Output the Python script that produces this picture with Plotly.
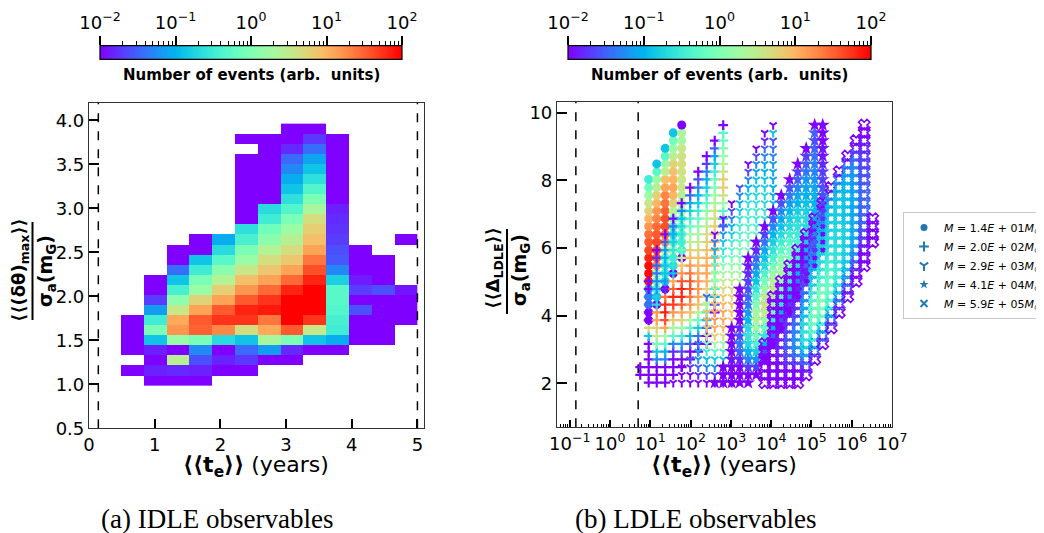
import numpy as np
import plotly.graph_objects as go

N = None
W, H = 1044, 533          # target picture size
OFF = 8                    # page body margin of the browser
FW, FH = W - OFF, H - OFF  # figure size so that the page is exactly W x H

# ---------------- (a) IDLE observables : 2-D histogram ----------------
TE_EDGES = [0.142, 0.489, 0.836, 1.183, 1.530, 1.877, 2.224, 2.571, 2.918,
            3.265, 3.612, 3.959, 4.306, 4.653, 5.000]
DTH_EDGES = [0.988, 1.102, 1.217, 1.331, 1.446, 1.560, 1.674, 1.789, 1.903,
             2.018, 2.132, 2.246, 2.361, 2.475, 2.590, 2.704, 2.818, 2.933,
             3.047, 3.162, 3.276, 3.390, 3.505, 3.619, 3.734, 3.848, 3.962]
# log10(number of events); rows listed from the top bin down
LOGN_TOP_DOWN = [
    [N, N, N, N, N, N, N, N, -2, -2, N, N, N, N],
    [N, N, N, N, N, N, -2, -2, -2, -1.72, -2, N, N, N],
    [N, N, N, N, N, N, N, -2, -1.8, -1.44, -2, N, N, N],
    [N, N, N, N, N, N, -2, -2, -1.46, -1.12, -2, N, N, N],
    [N, N, N, N, N, N, -2, -2, -1.28, -0.88, -2, N, N, N],
    [N, N, N, N, N, N, -2, -2, -1.05, -0.64, -2, N, N, N],
    [N, N, N, N, N, N, -2, -2, -0.88, -0.36, -2, N, N, N],
    [N, N, N, N, N, N, -2, -2, -0.64, -0.04, -2, N, N, N],
    [N, N, N, N, N, N, -2, -0.68, -0.36, 0.32, -1.84, N, N, N],
    [N, N, N, N, N, N, -2, -0.5, -0.04, 0.66, -1.78, N, N, N],
    [N, N, N, N, N, N, -0.64, -0.12, 0.2, 0.8, -1.75, N, N, N],
    [N, N, N, N, -2, -1.05, -0.44, 0.08, 0.44, 0.92, -1.7, N, N, -2],
    [N, N, N, -2, -2, -0.68, -0.04, 0.4, 0.66, 1.12, -1.6, -2, N, N],
    [N, N, N, -2, -0.88, -0.3, 0.2, 0.66, 0.86, 1.38, -1.56, -2, -2, N],
    [N, N, N, -1.44, -0.5, 0.08, 0.56, 0.86, 1.12, 1.6, -1.28, -2, -2, N],
    [N, N, -2, -0.88, -0.04, 0.4, 0.92, 1.12, 1.46, 1.82, -0.78, -1.86, -2, N],
    [N, N, -2, -0.44, 0.2, 0.8, 1.2, 1.46, 1.82, 2, -0.3, -1.7, -1.6, -1.9],
    [N, N, -1.7, 0.1, 0.76, 1.12, 1.54, 1.74, 2, 2, -0.3, -2, -2, -2],
    [N, N, -1.16, 0.56, 1.12, 1.54, 1.82, 1.88, 2, 2, -0.36, -1.6, -2, -2],
    [N, -2, -0.5, 1.08, 1.54, 1.74, 1.74, 1.38, 2, 1.74, -0.44, -2, -2, -2],
    [N, -2, -0.04, 1.2, 1.5, 1.28, 0.66, 1.08, 1.54, 0.56, -0.5, -2, -2, N],
    [N, -2, -0.88, 0.2, -0.04, -0.68, -0.88, 0.32, -0.04, -0.88, -1.05, -2, -2, N],
    [N, -2, -1.84, -2, -1.27, -2, -1.46, -1.16, -1.8, -2, -2, N, N, N],
    [N, N, -2, 0.44, -1.6, -1.84, -1.72, -2, -2, N, N, N, N, N],
    [N, -2, -1.84, -1.8, -1.84, -2, -2, N, N, N, N, N, N, N],
    [N, N, -2, -2, -2, N, N, N, N, N, N, N, N, N],
]
T_OBS_MIN, T_OBS_MAX = 0.142, 5.0   # dashed lines (years)

# ---------------- (b) LDLE observables : per-mass grids ----------------
LOG_TE_GRID = [0.75, 0.96, 1.16, 1.37, 1.57, 1.78, 1.99, 2.19, 2.40, 2.60,
               2.81, 3.02, 3.22, 3.43, 3.63, 3.84, 4.05, 4.25, 4.46, 4.66,
               4.87, 5.08, 5.28, 5.49, 5.69, 5.90, 6.11, 6.31, 6.52]
DL_GRID = [2.02, 2.25, 2.48, 2.71, 2.94, 3.17, 3.40, 3.64, 3.87, 4.10, 4.33,
           4.56, 4.79, 5.02, 5.25, 5.48, 5.71, 5.94, 6.18, 6.41, 6.64, 6.87,
           7.10, 7.33, 7.56, 7.79, 8.03, 8.26, 8.49, 8.72, 8.95, 9.18, 9.41, 9.64]

# (te grid index, first DL grid index, log10 counts from bottom to top)
CIRCLE_COLS = [
    (1, 8, [-2, -2, -1.5, -1.4, -1.3, 1.9, 1.95, 1.95, 1.82, 1.65, 1.54, 1.42, 1.2, 1.0, 0.76, 0.56, 0.2, -0.12, -0.5]),
    (2, 10, [-2, -0.9, -0.44, -0.2, 0.2, 1.3, 1.6, 1.65, 1.65, 1.54, 1.46, 1.3, 1.2, 1.0, 0.76, 0.5, 0.2, -0.3, -0.88]),
    (3, 12, [-2, -0.8, -0.5, -0.5, -0.3, 0.2, 1.3, 1.5, 1.6, 1.6, 1.5, 1.4, 1.3, 1.1, 0.9, 0.5, 0.2, -0.3, -0.88]),
    (4, 14, [-2, -0.7, -0.5, 0.2, -0.44, -0.64, -0.5, -0.12, 0.4, 0.76, 1.0, 1.1, 1.0, 0.9, 0.76, 0.5, 0.2, -0.12, -0.88]),
    (5, 16, [-2, -0.5, -0.36, -0.3, -0.2, 0.0, 0.2, 0.3, 0.44, 0.56, 0.56, 0.62, 0.66, 0.62, 0.56, 0.3, 0.32, -2]),
]
PLUS_COLS = [
    (0, 1, [-2, -2]),
    (1, 0, [-2, -2, -2, -2, -2, -2, -0.88, 0.66, -2, -2, -1.4, -1.3, -2, -2]),
    (2, 0, [-2, -2, -2, -1.3, -0.88, -0.12, 0.5, 0.76, 1.12, 1.2, -0.7, -0.8, -1.2, -1.3, -1.4, -1.5, -1.8, -2]),
    (3, 0, [-2, -2, -2, -1.3, -1.0, -0.3, 0.2, 1.1, 1.6, 1.85, 1.8, 1.4, -1.8, -1.2, -0.9, -0.9, -1.0, -1.2, -1.5, -2]),
    (4, 1, [-2, -2, -2, -1.8, -1.3, -0.3, 0.3, 0.8, 1.2, 1.7, 1.8, 1.5, 1.1, -0.9, -0.6, -0.5, -0.6, -0.8, -1.0, -1.4, -2]),
    (5, 2, [-2, -2, -1.6, -1.2, -0.5, 0.2, 0.8, 1.1, 1.5, 1.8, 1.85, 1.6, 1.2, 0.9, 0.5, -0.2, -0.5, -0.6, -0.7, -0.9, -1.3, -2]),
    (6, 3, [-2, -2, -1.5, -1.0, -0.3, 0.3, 0.9, 1.2, 1.4, 1.6, 1.6, 1.4, 1.2, 1.0, 0.8, 0.5, 0.2, -0.2, -0.5, -0.8, -1.1, -1.5, -2]),
    (7, 4, [-2, -2, -1.4, -0.8, -0.2, 0.4, 0.9, 1.1, 1.2, 1.2, 1.1, 1.0, 0.9, 0.7, 0.5, 0.3, 0.1, -0.2, -0.5, -0.8, -1.0, -1.3, -1.6, -2]),
    (8, 5, [-2, -2, -1.4, -0.9, -0.4, 0.1, 0.5, 0.8, 1.0, 1.1, 1.1, 1.0, 0.9, 0.8, 0.7, 0.5, 0.3, 0.1, -0.2, -0.5, -0.8, -1.0, -1.3, -1.7, -2]),
    (9, 9, [-2, -1.6, -1.0, -0.5, 0.0, 0.5, 0.9, 1.1, 1.1, 1.0, 0.9, 0.8, 0.7, 0.6, 0.4, 0.2, 0.0, -0.2, -0.5, -0.8, -1.1, -1.5, -2]),
    (10, 20, [-1.5, -0.8, -0.3, 0.2, 0.6, 0.8, 0.8, 0.6, 0.4, 0.2, 0.0, -0.2, -0.3, -2]),
]
TRI_COLS = [
    (4, 0, [-2]),
    (5, 0, [-2, -2, -2]),
    (6, 0, [-2, -2, -1.8, -1.6]),
    (7, 0, [-2, -1.8, -1.5, -1.2, -1.0, -1.3]),
    (8, 0, [-2, -1.7, -1.3, -0.9, -0.5, 0.0, 0.5, 0.9, 1.1, 0.9, 0.5, -1.5]),
    (9, 0, [-2, -1.6, -1.2, -0.8, -0.3, 0.3, 0.8, 1.1, 1.2, 1.1, 0.9, 0.8, 0.6, 0.3, 0.0, -0.3, -0.6, -1.0, -1.4, -2]),
    (10, 0, [-2, -1.7, -1.3, -0.9, -0.4, 0.2, 0.7, 1.0, 1.1, 1.1, 1.0, 0.9, 0.7, 0.5, 0.3, 0.0, -0.3, -0.6, -0.9, -1.2, -1.5, -2]),
    (11, 0, [-2, -2, -1.6, -1.2, -0.8, -0.3, 0.2, 0.6, 0.8, 0.9, 0.9, 0.8, 0.7, 0.5, 0.3, 0.1, -0.1, -0.3, -0.5, -0.8, -1.0, -1.3, -1.6, -2]),
    (12, 1, [-2, -1.8, -1.4, -1.0, -0.6, -0.2, 0.2, 0.5, 0.7, 0.7, 0.6, 0.5, 0.4, 0.3, 0.2, 0.0, -0.1, -0.3, -0.4, -0.5, -0.6, -0.8, -1.0, -1.3, -1.6]),
    (13, 3, [-2, -1.8, -1.4, -1.0, -0.6, -0.2, 0.1, 0.4, 0.5, 0.5, 0.4, 0.3, 0.2, 0.1, 0.0, -0.1, -0.2, -0.3, -0.4, -0.5, -0.6, -0.8, -1.0, -1.3, -1.6, -2]),
    (14, 5, [-2, -1.8, -1.4, -1.0, -0.7, -0.4, -0.1, 0.1, 0.2, 0.2, 0.1, 0.0, -0.1, -0.2, -0.3, -0.4, -0.5, -0.5, -0.6, -0.7, -0.8, -0.9, -1.1, -1.3, -1.6, -2]),
    (15, 7, [-2, -1.9, -1.6, -1.3, -1.0, -0.7, -0.5, -0.3, -0.2, -0.2, -0.3, -0.4, -0.5, -0.5, -0.6, -0.6, -0.7, -0.7, -0.8, -0.9, -1.0, -1.1, -1.3, -1.5, -1.8, -2]),
    (16, 10, [-2, -1.9, -1.7, -1.4, -1.2, -1.0, -0.9, -0.8, -0.7, -0.7, -0.8, -0.8, -0.9, -0.9, -1.0, -1.0, -1.1, -1.1, -1.2, -1.3, -1.4, -1.6, -0.9, -2]),
]
STAR_COLS = [
    (9, 0, [-2]),
    (10, 0, [-2, -2, -2]),
    (11, 0, [-2, -2, -2, -1.9, -2, -2, -2, -2]),
    (12, 0, [-2, -2, -2, -1.8, -1.5, -1.4, -1.6, -1.8, -2, -2, -2, -2, -2]),
    (13, 0, [-2, -2, -1.7, -1.3, -1.0, -0.7, -0.6, -0.7, -1.0, -1.2, -1.4, -1.5, -1.6, -1.7, -1.8, -1.9, -2]),
    (14, 1, [-2, -1.7, -1.2, -0.8, -0.4, -0.1, 0.2, 0.4, 0.3, 0.0, -0.3, -0.6, -0.9, -1.1, -1.3, -1.5, -1.8, -2]),
    (15, 3, [-2, -1.6, -1.0, -0.6, -0.2, 0.2, 0.5, 0.6, 0.5, 0.2, -0.1, -0.4, -0.7, -0.9, -1.1, -1.4, -1.7, -2]),
    (16, 5, [-2, -1.5, -1.0, -0.5, -0.1, 0.2, 0.4, 0.5, 0.4, 0.2, -0.1, -0.4, -0.6, -0.8, -1.0, -1.3, -1.6, -2]),
    (17, 7, [-2, -1.6, -1.0, -0.6, -0.3, 0.0, 0.2, 0.3, 0.2, 0.0, -0.3, -0.5, -0.7, -0.9, -1.1, -1.3, -1.6, -2]),
    (18, 9, [-2, -1.7, -1.2, -0.8, -0.5, -0.3, -0.1, 0.0, -0.1, -0.3, -0.5, -0.7, -0.8, -1.0, -1.2, -1.4, -1.6, -2]),
    (19, 11, [-2, -1.8, -1.3, -1.0, -0.7, -0.5, -0.4, -0.4, -0.5, -0.6, -0.7, -0.8, -1.0, -1.1, -1.3, -1.5, -1.7, -2]),
    (20, 13, [-2, -1.9, -1.5, -1.2, -1.0, -0.8, -0.7, -0.7, -0.7, -0.8, -0.9, -1.0, -1.1, -1.2, -1.4, -1.5, -1.7, -2]),
    (21, 15, [-2, -2, -1.8, -1.5, -1.3, -1.2, -1.1, -1.0, -1.0, -1.0, -1.1, -1.2, -1.3, -1.3, -1.4, -1.5, -1.6, -1.5, -2]),
    (22, 17, [-2, -2, -2, -1.9, -1.8, -1.7, -1.6, -1.6, -1.6, -1.7, -1.7, -1.8, -1.9, -1.9, -2, -2, -2]),
]
XMARK_COLS = [
    (15, 0, [-2, -2, -2, -2, -2, -2]),
    (16, 0, [-2, -2, -2, -2, -2, -2, -2, -2, -2, -2, -2, -2]),
    (17, 0, [-2, -2, -2, -1.9, -1.8, -1.8, -1.9, -2, -2, -2, -2, -2, -2, -2]),
    (18, 0, [-2, -2, -1.9, -1.7, -1.6, -1.5, -1.6, -1.7, -1.8, -1.9, -2, -2, -2, -2, -2, -2]),
    (19, 0, [-2, -2, -1.9, -1.6, -1.3, -1.2, -1.2, -1.3, -1.5, -1.7, -1.8, -1.9, -2, -2, -2, -2, -2, -2]),
    (20, 1, [-2, -1.8, -1.4, -1.0, -0.7, -0.6, -0.6, -0.7, -0.9, -1.1, -1.3, -1.5, -1.7, -1.8, -1.9, -2, -2, -2, -2]),
    (21, 3, [-2, -1.6, -1.0, -0.5, -0.2, -0.1, -0.1, -0.2, -0.4, -0.6, -0.8, -0.9, -1.0, -1.2, -1.4, -1.6, -1.8, -2, -2]),
    (22, 5, [-2, -1.5, -0.9, -0.4, -0.1, 0.0, 0.0, -0.1, -0.3, -0.5, -0.6, -0.7, -0.8, -0.8, -0.9, -1.0, -1.2, -1.6, -2]),
    (23, 7, [-2, -1.6, -1.0, -0.5, -0.3, -0.2, -0.2, -0.3, -0.4, -0.5, -0.6, -0.7, -0.7, -0.8, -0.8, -0.9, -1.0, -1.4, -2]),
    (24, 9, [-2, -1.7, -1.2, -0.8, -0.6, -0.5, -0.5, -0.6, -0.6, -0.7, -0.7, -0.7, -0.8, -0.8, -0.8, -0.9, -1.0, -1.4, -2]),
    (25, 11, [-2, -1.8, -1.4, -1.1, -0.9, -0.8, -0.8, -0.8, -0.8, -0.8, -0.9, -0.9, -0.9, -0.9, -1.0, -1.0, -1.2, -1.5, -2]),
    (26, 13, [-2, -2, -1.7, -1.4, -1.2, -1.1, -1.1, -1.1, -1.1, -1.1, -1.1, -1.1, -1.2, -1.2, -1.2, -1.3, -1.5, -1.8, -2]),
    (27, 15, [-2, -2, -2, -1.8, -1.7, -1.6, -1.5, -1.5, -1.5, -1.5, -1.5, -1.6, -1.6, -1.7, -1.7, -1.8, -1.9, -2, -2]),
    (28, 18, [-2, -2, -2, -2]),
]
MASS_LABELS = ["1.4", "2.0", "2.9", "4.1", "5.9"]
MASS_EXPS = ["01", "02", "03", "04", "05"]

CB_TICKS = [-2, -1, 0, 1, 2]


# ---------------- helpers ----------------
def rainbow(n=40):
    sc = []
    for i in range(n + 1):
        t = i / n
        r = min(1.0, abs(2 * t - 0.5))
        g = np.sin(np.pi * t)
        b = max(0.0, np.cos(np.pi * t / 2))
        sc.append([t, "rgb(%d,%d,%d)" % (round(255 * r), round(255 * g), round(255 * b))])
    return sc


def px(x):
    return (x - OFF) / FW


def py(y):
    return 1 - (y - OFF) / FH


def expand(cols):
    xs, ys, cs = [], [], []
    for xi, j0, vals in cols:
        for n, v in enumerate(vals):
            xs.append(10 ** LOG_TE_GRID[xi])
            ys.append(DL_GRID[j0 + n])
            cs.append(v)
    return xs, ys, cs


RAINBOW = rainbow()
FONT = "DejaVu Sans"

fig = go.Figure()

# heatmap (a)
fig.add_trace(go.Heatmap(
    x=TE_EDGES, y=DTH_EDGES, z=LOGN_TOP_DOWN[::-1], coloraxis="coloraxis",
    xaxis="x", yaxis="y", hoverongaps=False))
for tv in (T_OBS_MIN, T_OBS_MAX):
    fig.add_trace(go.Scatter(x=[tv, tv], y=[0.5, 4.2], mode="lines", xaxis="x", yaxis="y",
                             line=dict(color="black", width=1.5, dash="dash"), showlegend=False))

# scatter (b)
for tv in (T_OBS_MIN, T_OBS_MAX):
    fig.add_trace(go.Scatter(x=[tv, tv], y=[0.7, 10.33], mode="lines", xaxis="x2", yaxis="y2",
                             line=dict(color="black", width=1.5, dash="dash"), showlegend=False))

FAMILIES = [
    ("circle", CIRCLE_COLS, 9, 0),
    ("cross-thin-open", PLUS_COLS, 7, 2.2),
    ("y-down-open", TRI_COLS, 6, 2.0),
    ("star", STAR_COLS, 10.5, 0),
    ("x-open", XMARK_COLS, 10, 1.6),
]
for sym, cols, size, lw in FAMILIES:
    xs, ys, cs = expand(cols)
    fig.add_trace(go.Scatter(
        x=xs, y=ys, mode="markers", xaxis="x2", yaxis="y2", showlegend=False,
        marker=dict(symbol=sym, size=size, color=cs, coloraxis="coloraxis",
                    line=dict(width=lw, color=cs, coloraxis="coloraxis"))))

# legend entries
LEG_SYMS = ["circle", "cross-thin-open", "y-down-open", "star", "x-thin-open"]
for sym, mlab, mexp in zip(LEG_SYMS, MASS_LABELS, MASS_EXPS):
    thin = "thin" in sym or sym.startswith("y-")
    fig.add_trace(go.Scatter(
        x=[None], y=[None], mode="markers", xaxis="x2", yaxis="y2",
        name="<i>M</i> = %s<i>E</i> + %s<i>M</i><sub>⊙</sub>" % (mlab, mexp),
        marker=dict(symbol=sym, size=7, color="#1f77b4",
                    line=dict(width=2 if thin else 0, color="#1f77b4"))))

# colour bars drawn as small heatmaps
CB_Z = [list(np.linspace(-2, 2, 256))]
CB_X = list(np.linspace(-2, 2, 256))
for xa, ya in (("x3", "y3"), ("x4", "y4")):
    fig.add_trace(go.Heatmap(x=CB_X, y=[0.5], z=CB_Z, colorscale=RAINBOW, zmin=-2, zmax=2,
                             showscale=False, xaxis=xa, yaxis=ya, hoverinfo="skip"))

tickfont = dict(family=FONT, size=18, color="black")
cb_text = ["10<sup>−2</sup>", "10<sup>−1</sup>", "10<sup>0</sup>", "10<sup>1</sup>", "10<sup>2</sup>"]
cb_minor = [float(np.log10(m)) + e for e in range(-2, 2) for m in range(2, 10)]
log_text = ["10<sup>−1</sup>"] + ["10<sup>%d</sup>" % e for e in range(0, 8)]
log_vals = [10.0 ** e for e in range(-1, 8)]
log_minor = [m * 10.0 ** e for e in range(-2, 7) for m in range(2, 10)]

axis_common = dict(showline=True, linecolor="#333333", linewidth=1.2, mirror=True,
                   ticks="inside", tickcolor="black", showgrid=False, zeroline=False,
                   tickfont=tickfont)

LEFT = (89, 424, 102.7, 428.3)
RIGHT = (557, 892, 101.7, 427.3)
CB1 = (100, 402, 45.7, 59.3)
CB2 = (568, 871, 45.7, 59.3)

layout = dict(
    width=FW, height=FH, margin=dict(l=0, r=0, t=0, b=0, autoexpand=False),
    paper_bgcolor="white", plot_bgcolor="white",
    font=dict(family=FONT, color="black"),
    coloraxis=dict(colorscale=RAINBOW, cmin=-2, cmax=2, showscale=False),
    xaxis=dict(domain=[px(LEFT[0]), px(LEFT[1])], range=[0, 5.1], anchor="y",
               tickvals=[0, 1, 2, 3, 4, 5], ticklen=9, tickwidth=2, **axis_common),
    yaxis=dict(domain=[py(LEFT[3]), py(LEFT[2])], range=[0.5, 4.2], anchor="x",
               tickvals=[0.5, 1.0, 1.5, 2.0, 2.5, 3.0, 3.5, 4.0], tickformat=".1f",
               ticklen=10, tickwidth=2, **axis_common),
    xaxis2=dict(domain=[px(RIGHT[0]), px(RIGHT[1])], type="log", range=[-1.316, 7.0],
                anchor="y2", tickvals=log_vals, ticktext=log_text, ticklen=7, tickwidth=1.5,
                minor=dict(tickvals=log_minor, ticks="inside", ticklen=3.5, tickwidth=1,
                           tickcolor="black"),
                **axis_common),
    yaxis2=dict(domain=[py(RIGHT[3]), py(RIGHT[2])], range=[0.7, 10.33], anchor="x2",
                tickvals=[2, 4, 6, 8, 10], ticklen=10, tickwidth=1.5, **axis_common),
    legend=dict(x=px(903), y=py(212), xanchor="left", yanchor="top",
                bgcolor="white", bordercolor="#c8c8c8", borderwidth=1,
                font=dict(family=FONT, size=11, color="black"), itemwidth=30,
                tracegroupgap=0),
    showlegend=True,
)
for i, cb in ((3, CB1), (4, CB2)):
    layout["xaxis%d" % i] = dict(domain=[px(cb[0]), px(cb[1])], range=[-2, 2], anchor="y%d" % i,
                                 side="top", ticks="outside", ticklen=9, tickwidth=1.5,
                                 tickcolor="black", tickvals=CB_TICKS, ticktext=cb_text,
                                 tickfont=tickfont, showgrid=False, zeroline=False,
                                 showline=False,
                                 minor=dict(tickvals=cb_minor, ticks="outside", ticklen=4,
                                            tickwidth=1, tickcolor="black"))
    layout["yaxis%d" % i] = dict(domain=[py(cb[3]), py(cb[2])], range=[0, 1], anchor="x%d" % i,
                                 visible=False, fixedrange=True)
fig.update_layout(**layout)

shapes = []
for cb in (CB1, CB2):
    shapes.append(dict(type="rect", xref="paper", yref="paper", x0=px(cb[0]), x1=px(cb[1]),
                       y0=py(cb[3]), y1=py(cb[2]), line=dict(color="black", width=1.2)))
# fraction bars of the y-axis labels
shapes.append(dict(type="line", xref="paper", yref="paper", x0=px(32.5), x1=px(32.5),
                   y0=py(320), y1=py(222), line=dict(color="black", width=2)))
shapes.append(dict(type="line", xref="paper", yref="paper", x0=px(507), x1=px(507),
                   y0=py(314), y1=py(229), line=dict(color="black", width=2)))
fig.update_layout(shapes=shapes)

ann = []


def A(x, y, text, size, angle=0, family=FONT, **kw):
    ann.append(dict(x=px(x), y=py(y), xref="paper", yref="paper", text=text, showarrow=False,
                    textangle=angle, xanchor="center", yanchor="middle",
                    font=dict(family=family, size=size, color="black"), **kw))


for cx in (251, 719):
    A(cx, 75, "<b>Number of events (arb.  units)</b>", 15)
A(256, 466, "<b>⟨⟨t<sub>e</sub>⟩⟩</b> (years)", 22)
A(724, 466, "<b>⟨⟨t<sub>e</sub>⟩⟩</b> (years)", 22)
A(20, 270, "<b>⟨⟨(δθ)<sub>max</sub>⟩⟩</b>", 18, angle=-90)
A(46, 271, "<b>σ<sub>a</sub>(m<sub>G</sub>)</b>", 19, angle=-90)
A(494, 268, "<b>⟨⟨Δ<sub>LDLE</sub>⟩⟩</b>", 18, angle=-90)
A(520, 270, "<b>σ<sub>a</sub>(m<sub>G</sub>)</b>", 19, angle=-90)
A(217, 519, "(a) IDLE observables", 27, family="Liberation Serif")
A(695, 519, "(b) LDLE observables", 27, family="Liberation Serif")
fig.update_layout(annotations=ann)

fig.write_html("out.html")
